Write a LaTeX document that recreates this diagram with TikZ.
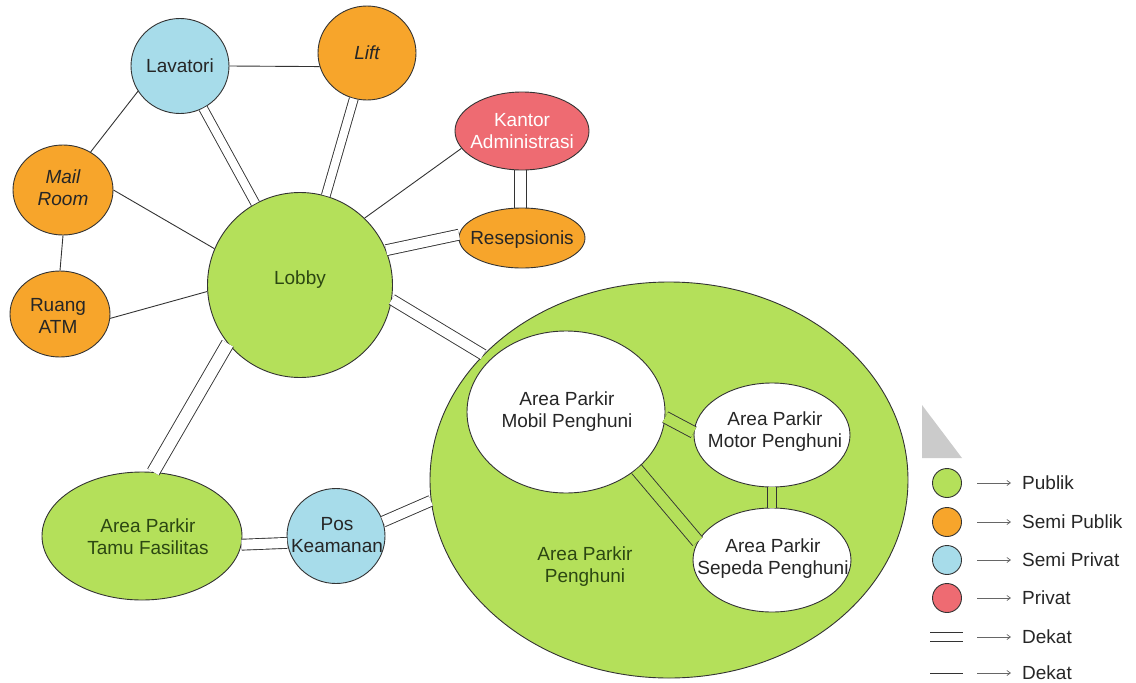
\documentclass[tikz,border=0pt]{standalone}
\usepackage{fontspec}
\setmainfont{Liberation Sans}
\usetikzlibrary{shapes.geometric,arrows.meta}
\definecolor{pub}{HTML}{B4E05A}
\definecolor{spub}{HTML}{F7A52B}
\definecolor{spriv}{HTML}{A7DCEA}
\definecolor{priv}{HTML}{EE6B72}
\definecolor{edgec}{HTML}{333333}
\definecolor{gtext}{HTML}{2C4712}
\definecolor{tritone}{HTML}{CBCBCB}
\begin{document}
\begin{tikzpicture}[x=1pt,y=-1pt,
  room/.style={ellipse, draw=edgec, line width=0.9pt, inner sep=0pt},
  lbl/.style={align=center, inner sep=0pt, font=\fontsize{19}{22}\selectfont, text=black!85},
  glbl/.style={lbl, text=gtext},
  sgl/.style={draw=edgec, line width=0.9pt},
  dbl/.style={draw=edgec, line width=0.9pt, double=white, double distance=8pt},
  dblg/.style={dbl, double=pub},
  legarrow/.style={draw=black!60, line width=0.7pt, -{Straight Barb[length=3.5pt,width=5pt]}},
]
\useasboundingbox (0,0) rectangle (1136,683);

% big area
\node[room, fill=pub, minimum width=478pt, minimum height=396pt] (big) at (669,480) {};
\node[glbl] (bigt) at (585,567) {Area Parkir\\Penghuni};

% rooms
\node[room, fill=spriv, minimum width=98pt, minimum height=95pt] (lav) at (180,66) {};
\node[lbl] at (lav) {Lavatori};
\node[room, fill=spub, minimum width=98pt, minimum height=94pt] (lift) at (367,53) {};
\node[lbl] at (lift) {\itshape Lift};
\node[room, fill=spub, minimum width=100pt, minimum height=90pt] (mail) at (63,190) {};
\node[lbl] at (63,188) {\itshape Mail\\\itshape Room};
\node[room, fill=spub, minimum width=100pt, minimum height=86pt] (atm) at (60,314) {};
\node[lbl] at (58,316) {Ruang\\ATM};
\node[room, fill=pub, minimum width=185pt, minimum height=185pt] (lobby) at (300,285) {};
\node[glbl] at (300,280) {Lobby};
\node[room, fill=priv, minimum width=134pt, minimum height=78pt] (kantor) at (522,131) {};
\node[lbl, text=white] at (522,131) {Kantor\\Administrasi};
\node[room, fill=spub, minimum width=126pt, minimum height=60pt] (resep) at (522,238) {};
\node[lbl] at (522,240) {Resepsionis};
\node[room, fill=pub, minimum width=200pt, minimum height=128pt] (tamu) at (142,536) {};
\node[glbl] at (148,537) {Area Parkir\\Tamu Fasilitas};
\node[room, fill=spriv, minimum width=98pt, minimum height=95pt] (pos) at (336,536) {};
\node[lbl] at (337,535) {Pos\\Keamanan};
\node[room, fill=white, minimum width=198pt, minimum height=162pt] (mobil) at (566,412) {};
\node[lbl] at (567,412) {Area Parkir\\Mobil Penghuni};
\node[room, fill=white, minimum width=156pt, minimum height=104pt] (motor) at (772,435) {};
\node[lbl] at (775,432) {Area Parkir\\Motor Penghuni};
\node[room, fill=white, minimum width=158pt, minimum height=104pt] (sepeda) at (772,560) {};
\node[lbl] at (773,559) {Area Parkir\\Sepeda Penghuni};

% single connectors
\draw[sgl] (lav.east) -- (lift.196);
\draw[sgl] (lav.211) -- (mail.54);
\draw[sgl] (mail.east) -- (lobby.157);
\draw[sgl] (mail.south) -- (atm.north);
\draw[sgl] (atm.-5) -- (lobby.184);
\draw[sgl] (lobby.46) -- (kantor.196);

% double connectors
\draw[dbl] (lav) -- (lobby);
\draw[dbl] (lift) -- (lobby);
\draw[sgl] ([xshift=-8pt]kantor.south) -- ([xshift=-8pt]resep.north);
\draw[sgl] ([xshift=4pt]kantor.south) -- ([xshift=4pt]resep.north);
\draw[dbl, double distance=10pt] (lobby.22) -- (resep.177);
\draw[dbl, double distance=10pt] (lobby.-9) -- (big.146);
\draw[dbl, double distance=12pt] (lobby.219) -- (tamu.80);
\draw[dbl, double distance=10pt] (tamu.-5) -- (pos.188);
\draw[dbl, double distance=10pt] (pos.17) -- (big.185);
\draw[dblg, double distance=11pt] (mobil.-3) -- (motor.178);
\draw[dblg, double distance=12pt] (mobil.-39) -- (sepeda.166);
\draw[dblg, double distance=8pt] (motor.south) -- (sepeda.north);

% legend
\fill[tritone] (922,405) -- (922,458) -- (962,458) -- cycle;
\node[room, fill=pub, minimum size=29pt] (lg1) at (947,483) {};
\node[room, fill=spub, minimum size=29pt] (lg2) at (947,522) {};
\node[room, fill=spriv, minimum size=29pt] (lg3) at (947,560) {};
\node[room, fill=priv, minimum size=29pt] (lg4) at (947,598) {};
\coordinate (d1a) at (930,637); \coordinate (d1b) at (963,637);
\coordinate (s1a) at (930,673); \coordinate (s1b) at (963,673);
\draw[draw=black!80, line width=0.9pt, double=white, double distance=8pt] (d1a) -- (d1b);
\draw[draw=black!80, line width=0.9pt] (s1a) -- (s1b);
\node[lbl, anchor=west] (t1) at (1022,483) {Publik};
\node[lbl, anchor=west] (t2) at (1022,522) {Semi Publik};
\node[lbl, anchor=west] (t3) at (1022,560) {Semi Privat};
\node[lbl, anchor=west] (t4) at (1022,598) {Privat};
\node[lbl, anchor=west] (t5) at (1022,637) {Dekat};
\node[lbl, anchor=west] (t6) at (1022,673) {Dekat};
\foreach \i/\y in {1/483,2/522,3/560,4/598,5/637,6/673}{
  \coordinate (a\i) at (977,\y);
  \draw[legarrow] (a\i) -- ([xshift=-11pt]t\i.west);
}
\end{tikzpicture}
\end{document}
